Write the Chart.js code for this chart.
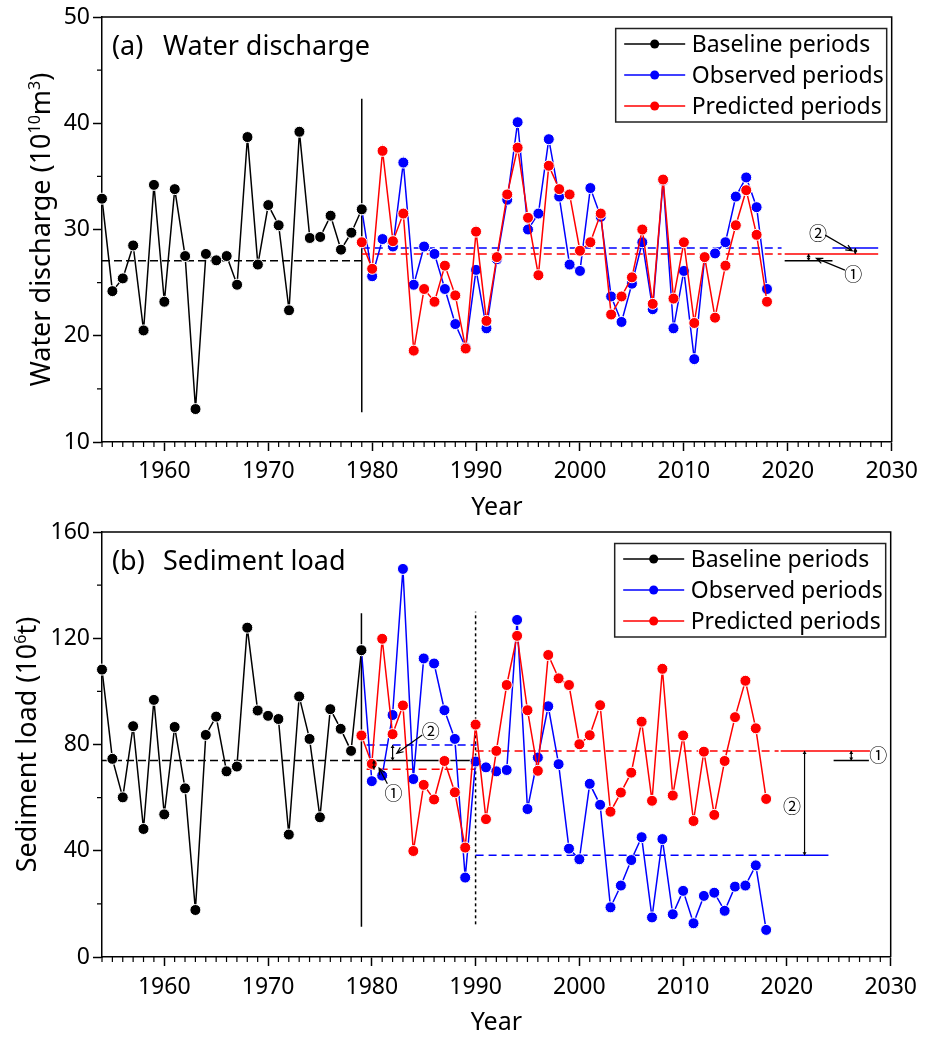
<!DOCTYPE html>
<html>
<head>
<meta charset="utf-8">
<title>Water discharge and sediment load</title>
<script src="https://cdn.jsdelivr.net/npm/chart.js@4.4.1/dist/chart.umd.min.js"></script>
<style>
  html, body { margin: 0; padding: 0; background: #fff; }
  #wrap { position: relative; width: 925px; height: 1037px; }
  canvas { position: absolute; left: 0; }
  #chartA { top: 0; }
  #chartB { top: 515px; }
</style>
</head>
<body>
<div id="wrap">
  <canvas id="chartA" width="925" height="520" style="width:925px;height:520px"></canvas>
  <canvas id="chartB" width="925" height="522" style="width:925px;height:522px"></canvas>
</div>
<script>
/* ---------- Data ---------- */
const baseYears = [1954, 1955, 1956, 1957, 1958, 1959, 1960, 1961, 1962, 1963, 1964, 1965, 1966,
  1967, 1968, 1969, 1970, 1971, 1972, 1973, 1974, 1975, 1976, 1977, 1978, 1979];
const postYears = [1979, 1980, 1981, 1982, 1983, 1984, 1985, 1986, 1987, 1988, 1989, 1990, 1991,
  1992, 1993, 1994, 1995, 1996, 1997, 1998, 1999, 2000, 2001, 2002, 2003, 2004, 2005, 2006, 2007,
  2008, 2009, 2010, 2011, 2012, 2013, 2014, 2015, 2016, 2017, 2018];

// (a) water discharge, 10^10 m3
const waterBase = [32.9, 24.2, 25.4, 28.5, 20.5, 34.2, 23.2, 33.8, 27.5, 13.1, 27.7, 27.1, 27.5,
  24.8, 38.7, 26.7, 32.3, 30.4, 22.4, 39.2, 29.2, 29.3, 31.3, 28.1, 29.7, 31.9];
const waterObs = [31.9, 25.6, 29.1, 28.4, 36.3, 24.8, 28.4, 27.7, 24.4, 21.1, 18.9, 26.2, 20.7,
  27.2, 32.8, 40.1, 30.0, 31.5, 38.5, 33.1, 26.7, 26.1, 33.9, 31.2, 23.7, 21.3, 24.9, 28.8, 22.5,
  34.6, 20.7, 26.1, 17.8, 27.4, 27.75, 28.8, 33.1, 34.9, 32.1, 24.4];
const waterPred = [28.8, 26.3, 37.4, 28.9, 31.5, 18.6, 24.4, 23.2, 26.6, 23.8, 18.8, 29.8, 21.4,
  27.4, 33.3, 37.7, 31.1, 25.7, 36.0, 33.8, 33.3, 28.0, 28.8, 31.5, 22.0, 23.7, 25.5, 30.0, 23.0,
  34.7, 23.5, 28.8, 21.2, 27.4, 21.7, 26.6, 30.4, 33.7, 29.5, 23.2];
const waterBaseMean = 27.05;
const waterObsMean = 28.25;
const waterPredMean = 27.7;

// (b) sediment load, 10^6 t
const sedBase = [108.2, 74.6, 60.1, 86.9, 48.2, 96.8, 53.7, 86.6, 63.5, 17.7, 83.6, 90.5, 69.9,
  71.7, 124.0, 92.8, 90.8, 89.6, 46.1, 98.1, 82.1, 52.6, 93.3, 85.9, 77.6, 115.5];
const sedObs = [115.5, 66.2, 68.3, 91.1, 146.1, 67.0, 112.4, 110.5, 92.9, 82.1, 29.9, 73.6, 71.4,
  69.9, 70.4, 126.9, 55.7, 75.1, 94.4, 72.6, 40.8, 36.8, 65.2, 57.3, 18.7, 26.9, 36.5, 45.1, 14.9,
  44.4, 16.1, 24.9, 12.7, 23.0, 24.2, 17.4, 26.5, 26.9, 34.5, 10.2];
const sedPred = [83.4, 72.7, 119.8, 83.9, 94.7, 39.9, 64.8, 59.3, 73.8, 62.0, 41.2, 87.5, 51.9,
  77.6, 102.4, 120.9, 92.9, 70.1, 113.7, 104.9, 102.4, 80.1, 83.5, 94.8, 54.7, 61.9, 69.4, 88.6, 58.8,
  108.5, 60.8, 83.4, 51.2, 77.3, 53.5, 73.8, 90.3, 104.0, 86.1, 59.5];
const sedBaseMean = 74.0;
const sedObsMean1 = 79.8;   // 1979-1990
const sedPredMean1 = 70.7;
const sedObsMean2 = 38.3;   // 1990-2018
const sedPredMean2 = 77.6;

const xTicks = [1960, 1970, 1980, 1990, 2000, 2010, 2020, 2030];
const waterTicks = [10, 20, 30, 40, 50];
const sedTicks = [0, 40, 80, 120, 160];
const legendLabels = ['Baseline periods', 'Observed periods', 'Predicted periods'];

/* ---------- Style ---------- */
const FONT = '"Noto Sans", "DejaVu Sans", sans-serif';
const CJK = '"Noto Sans CJK SC", "DejaVu Sans", sans-serif';
const BLACK = '#000000', BLUE = '#0000ff', RED = '#ff0000';
const legendColors = [BLACK, BLUE, RED];

/* ---------- Helpers ---------- */
const pts = (xs, ys) => xs.map((x, i) => ({ x, y: ys[i] }));
const seg = (x0, x1, y0, y1 = y0) => [{ x: x0, y: y0 }, { x: x1, y: y1 }];

function series(label, data, color, order) {
  return {
    label, data, order,
    borderColor: color, backgroundColor: color, borderWidth: 1.5,
    pointRadius: 5.5, pointHoverRadius: 5.5,
    pointBackgroundColor: color, pointBorderColor: '#fff', pointBorderWidth: 1,
    tension: 0, clip: false
  };
}
function guide(data, color, dash = []) {
  return {
    data, borderColor: color, borderWidth: 1.5, borderDash: dash,
    pointRadius: 0, pointHoverRadius: 0, order: 10, clip: false, fill: false
  };
}

function arrow(ctx, x0, y0, x1, y1) {
  const a = Math.atan2(y1 - y0, x1 - x0), h = 7;
  ctx.beginPath();
  ctx.moveTo(x0, y0); ctx.lineTo(x1, y1);
  ctx.moveTo(x1 - h * Math.cos(a - 0.4), y1 - h * Math.sin(a - 0.4));
  ctx.lineTo(x1, y1);
  ctx.lineTo(x1 - h * Math.cos(a + 0.4), y1 - h * Math.sin(a + 0.4));
  ctx.stroke();
}
function dblArrow(ctx, x, y0, y1) {
  const top = Math.min(y0, y1), bot = Math.max(y0, y1), h = 3;
  ctx.beginPath();
  ctx.moveTo(x, top); ctx.lineTo(x, bot); ctx.stroke();
  ctx.beginPath();
  ctx.moveTo(x, top); ctx.lineTo(x - 2, top + h); ctx.lineTo(x + 2, top + h); ctx.closePath();
  ctx.moveTo(x, bot); ctx.lineTo(x - 2, bot - h); ctx.lineTo(x + 2, bot - h); ctx.closePath();
  ctx.fill();
}
function circled(ctx, t, x, y) {
  ctx.font = `18px ${CJK}`;
  ctx.textAlign = 'center';
  ctx.textBaseline = 'middle';
  ctx.fillText(t, x, y);
}

function drawYTitle(ctx, parts, x, yc) {
  ctx.save();
  ctx.translate(x, yc);
  ctx.rotate(-Math.PI / 2);
  const big = `27px ${FONT}`, small = `16px ${FONT}`;
  let w = 0;
  parts.forEach(p => { ctx.font = p.sup ? small : big; p.w = ctx.measureText(p.t).width; w += p.w; });
  let cx = -w / 2;
  ctx.textAlign = 'left';
  ctx.textBaseline = 'alphabetic';
  ctx.fillStyle = BLACK;
  parts.forEach(p => {
    ctx.font = p.sup ? small : big;
    ctx.fillText(p.t, cx, p.sup ? -10 : 0);
    cx += p.w;
  });
  ctx.restore();
}

/* ---------- Decorations plugin ---------- */
function decor(o) {
  return {
    id: 'decor',
    afterDraw(chart) {
      const { ctx, chartArea: a, scales } = chart;
      const X = v => scales.x.getPixelForValue(v);
      const Y = v => scales.y.getPixelForValue(v);
      ctx.save();
      ctx.strokeStyle = BLACK;
      ctx.fillStyle = BLACK;
      ctx.lineWidth = 1.5;

      // frame (top + right)
      ctx.beginPath();
      ctx.moveTo(a.left, a.top); ctx.lineTo(a.right, a.top); ctx.lineTo(a.right, a.bottom);
      ctx.stroke();

      // minor ticks
      ctx.lineWidth = 1.2;
      ctx.beginPath();
      for (let yr = 1954; yr <= 2030; yr++) {
        if (yr % 10 === 0) continue;
        ctx.moveTo(X(yr), a.bottom); ctx.lineTo(X(yr), a.bottom + 5);
      }
      o.yMinor.forEach(v => { ctx.moveTo(a.left, Y(v)); ctx.lineTo(a.left - 5, Y(v)); });
      ctx.stroke();

      // panel title
      ctx.font = `27px ${FONT}`;
      ctx.textAlign = 'left';
      ctx.textBaseline = 'alphabetic';
      ctx.fillText(o.tag, a.left + 10, a.top + 37.5);
      ctx.fillText(o.title, a.left + 61, a.top + 37.5);

      // y title
      drawYTitle(ctx, o.yTitle, o.yTitleX, (a.top + a.bottom) / 2);

      // legend
      const lx = a.right - 276, ly = a.top + 11.5;
      ctx.lineWidth = 1.5;
      ctx.strokeStyle = '#222';
      ctx.strokeRect(lx, ly, 271, 93.5);
      ctx.font = `23px ${FONT}`;
      ctx.textBaseline = 'middle';
      legendLabels.forEach((t, i) => {
        const y = ly + 15.5 + i * 31;
        ctx.strokeStyle = legendColors[i];
        ctx.fillStyle = legendColors[i];
        ctx.beginPath(); ctx.moveTo(lx + 8.5, y); ctx.lineTo(lx + 69.5, y); ctx.stroke();
        ctx.beginPath(); ctx.arc(lx + 39, y, 4.5, 0, Math.PI * 2); ctx.fill();
        ctx.fillStyle = BLACK;
        ctx.fillText(t, lx + 76, y + 1);
      });

      // annotations
      ctx.strokeStyle = BLACK;
      ctx.fillStyle = BLACK;
      ctx.lineWidth = 1.2;
      o.notes(ctx, X, Y);
      ctx.restore();
    }
  };
}

/* ---------- Chart builder ---------- */
function buildChart(id, o) {
  return new Chart(document.getElementById(id), {
    type: 'line',
    data: {
      datasets: [
        series(legendLabels[0], pts(baseYears, o.base), BLACK, 0),
        series(legendLabels[2], pts(postYears, o.pred), RED, 1),
        series(legendLabels[1], pts(postYears, o.obs), BLUE, 2),
        ...o.guides
      ]
    },
    options: {
      responsive: false,
      animation: false,
      events: [],
      layout: { padding: { top: 17, right: 32, left: 0, bottom: 0 } },
      plugins: { legend: { display: false }, tooltip: { enabled: false } },
      scales: {
        x: {
          type: 'linear', min: 1954, max: 2030,
          afterBuildTicks: s => { s.ticks = xTicks.map(v => ({ value: v })); },
          afterFit: s => { s.height = o.xHeight; },
          grid: { drawOnChartArea: false, tickLength: 9, color: BLACK, tickWidth: 1.5 },
          border: { color: BLACK, width: 1.5 },
          ticks: { color: BLACK, font: { family: FONT, size: 23 }, padding: o.xPad,
                   maxRotation: 0, autoSkip: false, callback: v => String(v) },
          title: { display: true, text: 'Year', color: BLACK,
                   font: { family: FONT, size: 25, lineHeight: 1 },
                   padding: { top: 0, bottom: o.yearPad } }
        },
        y: {
          type: 'linear', min: o.yTicks[0], max: o.yTicks[o.yTicks.length - 1],
          afterBuildTicks: s => { s.ticks = o.yTicks.map(v => ({ value: v })); },
          afterFit: s => { s.width = 102; },
          grid: { drawOnChartArea: false, tickLength: 9, color: BLACK, tickWidth: 1.5 },
          border: { color: BLACK, width: 1.5 },
          ticks: { color: BLACK, font: { family: FONT, size: 23 }, padding: 3 }
        }
      }
    },
    plugins: [decor(o)]
  });
}

/* ---------- (a) Water discharge ---------- */
buildChart('chartA', {
  base: waterBase, obs: waterObs, pred: waterPred,
  yTicks: waterTicks, yMinor: [15, 25, 35, 45],
  xHeight: 78, xPad: 7, yearPad: 0,
  tag: '(a)', title: 'Water discharge',
  yTitleX: 50,
  yTitle: [{ t: 'Water discharge (10' }, { t: '10', sup: true }, { t: 'm' }, { t: '3', sup: true }, { t: ')' }],
  guides: [
    guide(seg(1954, 1979, waterBaseMean), BLACK, [8, 4]),
    guide(seg(1979, 2019.4, waterObsMean), BLUE, [8, 5]),
    guide(seg(1979, 2019.4, waterPredMean), RED, [8, 5]),
    guide(seg(2019.7, 2024.3, waterBaseMean), BLACK),
    guide(seg(2019.7, 2028.7, waterPredMean), RED),
    guide(seg(2024.3, 2028.7, waterObsMean), BLUE),
    guide([{ x: 1979, y: 12.8 }, { x: 1979, y: 42.3 }], BLACK)
  ],
  notes: (ctx, X, Y) => {
    dblArrow(ctx, X(2022.0), Y(waterBaseMean), Y(waterPredMean));
    dblArrow(ctx, X(2026.5), Y(waterPredMean), Y(waterObsMean));
    arrow(ctx, X(2023.6), Y(29.47), X(2026.2), Y(28.0));
    arrow(ctx, X(2025.5), Y(26.18), X(2022.75), Y(27.28));
    circled(ctx, '②', X(2022.9), Y(29.69));
    circled(ctx, '①', X(2026.3), Y(25.78));
  }
});

/* ---------- (b) Sediment load ---------- */
buildChart('chartB', {
  base: sedBase, obs: sedObs, pred: sedPred,
  yTicks: sedTicks, yMinor: [20, 60, 100, 140],
  xHeight: 80, xPad: 8, yearPad: 2,
  tag: '(b)', title: 'Sediment load',
  yTitleX: 35.5,
  yTitle: [{ t: 'Sediment load (10' }, { t: '6', sup: true }, { t: 't)' }],
  guides: [
    guide(seg(1954, 1979, sedBaseMean), BLACK, [8, 4]),
    guide(seg(1979.5, 1990, sedBaseMean), BLACK),
    guide(seg(1979.5, 1990.1, sedObsMean1), BLUE, [8, 5]),
    guide(seg(1979.5, 1990, sedPredMean1), RED, [8, 5]),
    guide(seg(1990, 2019.2, sedPredMean2), RED, [8, 5]),
    guide(seg(1990, 2019.4, sedObsMean2), BLUE, [8, 5]),
    guide(seg(2019.4, 2028.0, sedPredMean2), RED),
    guide(seg(2019.8, 2024.0, sedObsMean2), BLUE),
    guide(seg(2024.5, 2027.9, sedBaseMean), BLACK),
    guide([{ x: 1979, y: 11.4 }, { x: 1979, y: 129.4 }], BLACK),
    guide([{ x: 1990, y: 12.3 }, { x: 1990, y: 130 }], BLACK, [3, 3])
  ],
  notes: (ctx, X, Y) => {
    dblArrow(ctx, X(1982.0), Y(sedBaseMean), Y(sedObsMean1));
    arrow(ctx, X(1984.86), Y(83.6), X(1982.4), Y(76.7));
    circled(ctx, '②', X(1985.67), Y(85.2));
    dblArrow(ctx, X(1980.2), Y(sedPredMean1), Y(sedBaseMean));
    arrow(ctx, X(1981.5), Y(65.2), X(1980.7), Y(71.1));
    circled(ctx, '①', X(1982.1), Y(61.7));
    dblArrow(ctx, X(2021.7), Y(sedObsMean2), Y(sedPredMean2));
    circled(ctx, '②', X(2020.5), Y(56.9));
    dblArrow(ctx, X(2026.2), Y(sedBaseMean), Y(sedPredMean2));
    circled(ctx, '①', X(2028.8), Y(76.1));
  }
});
</script>
</body>
</html>
